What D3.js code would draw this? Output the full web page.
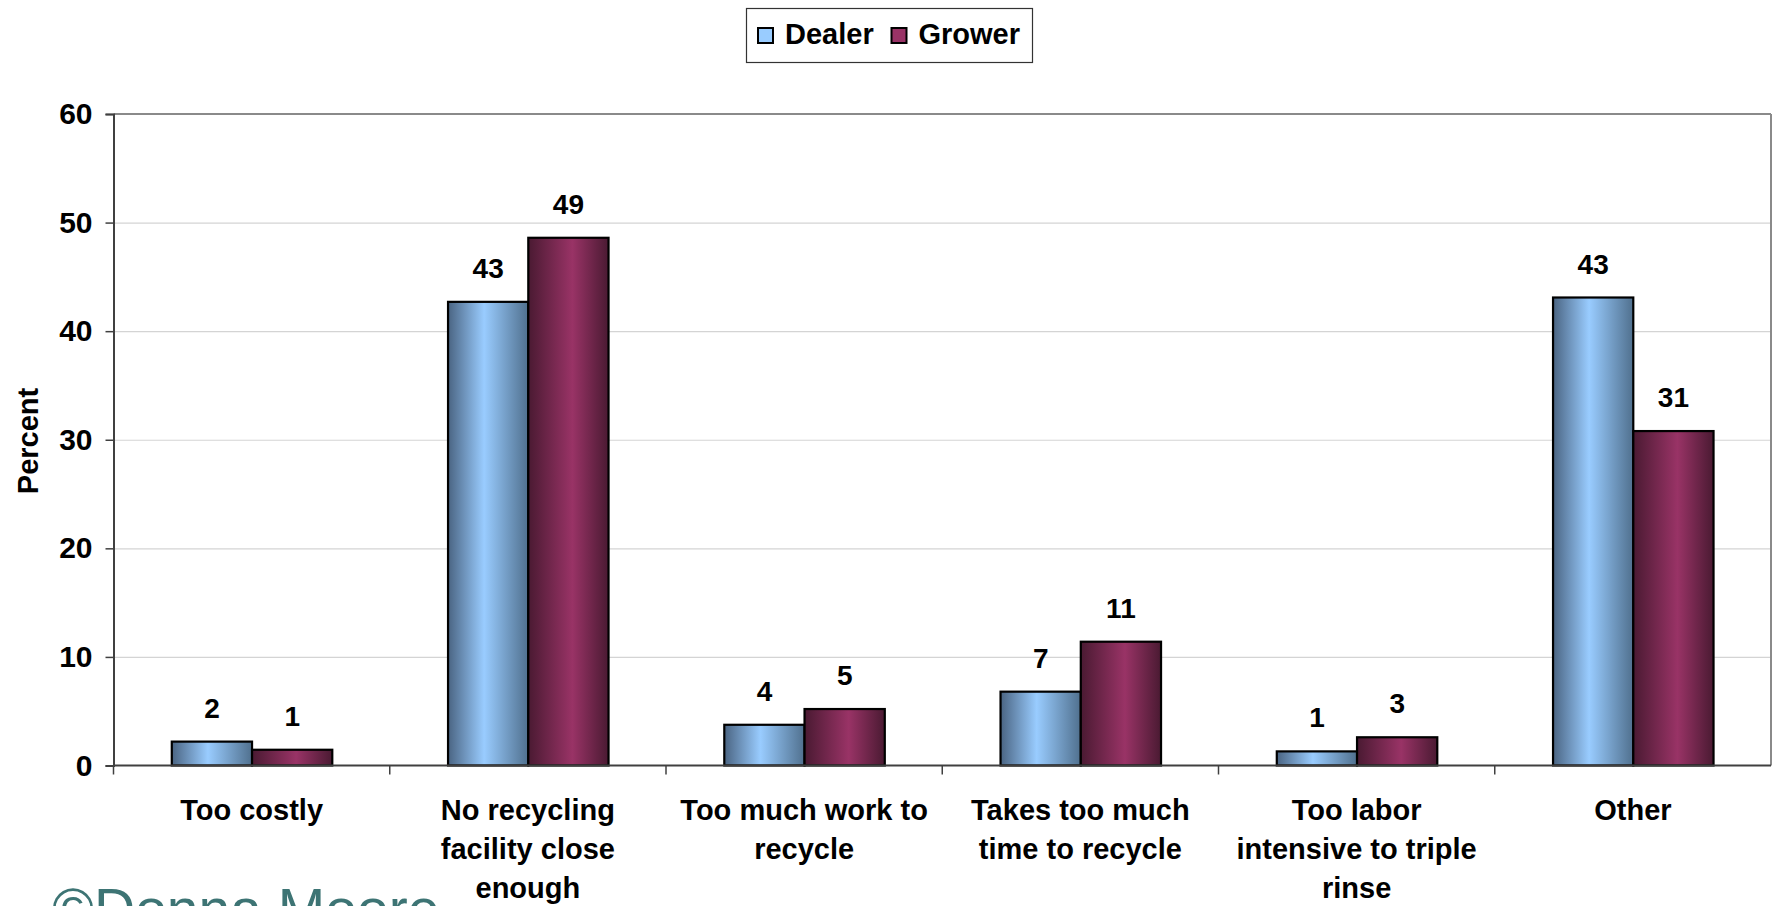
<!DOCTYPE html>
<html>
<head>
<meta charset="utf-8">
<script src="https://cdn.jsdelivr.net/npm/d3@7"></script>
<style>
  html, body { margin: 0; padding: 0; background: #ffffff; overflow: hidden; }
  svg { display: block; font-family: "Liberation Sans", Arial, sans-serif; }
</style>
</head>
<body>
<svg id="chart" width="1773" height="906"></svg>
<script>
// ---------- data ----------
const categories = [
  "Too costly",
  "No recycling facility close enough",
  "Too much work to recycle",
  "Takes too much time to recycle",
  "Too labor intensive to triple rinse",
  "Other"
];
const categoryLines = [
  ["Too costly"],
  ["No recycling", "facility close", "enough"],
  ["Too much work to", "recycle"],
  ["Takes too much", "time to recycle"],
  ["Too labor", "intensive to triple", "rinse"],
  ["Other"]
];
const seriesNames = ["Dealer", "Grower"];
const dealerValues = [2.2, 42.7, 3.75, 6.8, 1.3, 43.1];
const growerValues = [1.45, 48.6, 5.2, 11.4, 2.6, 30.8];
const yTicks = [0, 10, 20, 30, 40, 50, 60];
const yTitle = "Percent";
const watermark = "\u00A9Donna Moore";

// ---------- layout ----------
const svg = d3.select("#chart");
const mLeft = 113.5, mRight = 1771, mTop = 114, mBottom = 765.5;

const x = d3.scaleBand().domain(categories).range([mLeft, mRight]).paddingInner(0).paddingOuter(0);
const bw = x.bandwidth();
const x1 = d3.scaleBand().domain(seriesNames).range([bw * 0.211, bw * 0.792]).padding(0);
const y = d3.scaleLinear().domain([0, 60]).range([mBottom, mTop]);

const colors = {
  Dealer: [["0%", "#4a6482"], ["45%", "#99ccff"], ["100%", "#50708e"]],
  Grower: [["0%", "#4a1a32"], ["55%", "#993366"], ["100%", "#4a1a32"]]
};

const defs = svg.append("defs");
seriesNames.forEach(s => {
  const g = defs.append("linearGradient").attr("id", "grad-" + s)
    .attr("x1", "0").attr("x2", "1").attr("y1", "0").attr("y2", "0");
  colors[s].forEach(([o, c]) => g.append("stop").attr("offset", o).attr("stop-color", c));
});

// gridlines
svg.append("g").selectAll("line").data(yTicks.filter(t => t > 0 && t < 60)).join("line")
  .attr("x1", mLeft).attr("x2", mRight)
  .attr("y1", d => y(d) + 0.5).attr("y2", d => y(d) + 0.5)
  .attr("stroke", "#d4d4d4").attr("stroke-width", 1.2);

// plot border top & right
svg.append("line").attr("x1", mLeft).attr("x2", mRight).attr("y1", y(60)).attr("y2", y(60))
  .attr("stroke", "#8a8a8a").attr("stroke-width", 2);
svg.append("line").attr("x1", mRight).attr("x2", mRight).attr("y1", y(60)).attr("y2", y(0))
  .attr("stroke", "#8a8a8a").attr("stroke-width", 2);

// y axis
const yAxis = d3.axisLeft(y).tickValues(yTicks).tickSize(8).tickPadding(13).tickFormat(d3.format("d"));
const gy = svg.append("g").attr("transform", `translate(${mLeft},0)`).call(yAxis);
gy.select(".domain").attr("stroke", "#404040").attr("stroke-width", 2);
gy.selectAll(".tick line").attr("stroke", "#404040").attr("stroke-width", 1.5);
gy.selectAll(".tick text").attr("font-size", 30).attr("font-weight", "bold")
  .attr("fill", "#000").attr("font-family", "Liberation Sans, Arial, sans-serif");

// y title
svg.append("text").attr("transform", `translate(38,441) rotate(-90)`)
  .attr("text-anchor", "middle").attr("font-size", 29).attr("font-weight", "bold")
  .text(yTitle);

// bars
const data = categories.map((c, i) => ({ cat: c, vals: [
  { s: "Dealer", v: dealerValues[i] }, { s: "Grower", v: growerValues[i] }] }));

const groups = svg.append("g").selectAll("g").data(data).join("g")
  .attr("transform", d => `translate(${x(d.cat)},0)`);

groups.selectAll("rect").data(d => d.vals).join("rect")
  .attr("x", d => x1(d.s)).attr("width", x1.bandwidth())
  .attr("y", d => y(d.v)).attr("height", d => y(0) - y(d.v))
  .attr("fill", d => `url(#grad-${d.s})`)
  .attr("stroke", "#000").attr("stroke-width", 2.2);

groups.selectAll("text.val").data(d => d.vals).join("text").attr("class", "val")
  .attr("x", d => x1(d.s) + x1.bandwidth() / 2)
  .attr("y", d => y(d.v) - 24)
  .attr("text-anchor", "middle").attr("font-size", 28).attr("font-weight", "bold")
  .text(d => d3.format(".0f")(d.v));

// x axis line
svg.append("line").attr("x1", mLeft).attr("x2", mRight).attr("y1", y(0)).attr("y2", y(0))
  .attr("stroke", "#404040").attr("stroke-width", 2);

// x ticks at band boundaries
const boundaries = categories.map(c => x(c));
svg.append("g").selectAll("line").data(boundaries).join("line")
  .attr("x1", d => d).attr("x2", d => d).attr("y1", y(0)).attr("y2", y(0) + 9)
  .attr("stroke", "#404040").attr("stroke-width", 1.5);

// category labels
const lab = svg.append("g").selectAll("text").data(categories).join("text")
  .attr("text-anchor", "middle").attr("font-size", 29).attr("font-weight", "bold")
  .attr("x", c => x(c) + bw / 2).attr("y", 820);
lab.each(function(c, i) {
  d3.select(this).selectAll("tspan").data(categoryLines[i]).join("tspan")
    .attr("x", x(c) + bw / 2).attr("dy", (d, j) => j === 0 ? 0 : 39).text(d => d);
});

// legend
const lg = svg.append("g");
lg.append("rect").attr("x", 746.5).attr("y", 8.5).attr("width", 286).attr("height", 54)
  .attr("fill", "#fff").attr("stroke", "#333").attr("stroke-width", 1.2);
const legendX = [758, 891.5];
seriesNames.forEach((s, i) => {
  lg.append("rect").attr("x", legendX[i]).attr("y", 28).attr("width", 15).attr("height", 15)
    .attr("fill", colors[s][1][1]).attr("stroke", "#000").attr("stroke-width", 2);
  lg.append("text").attr("x", legendX[i] + 27).attr("y", 44)
    .attr("font-size", 29).attr("font-weight", "bold").text(s);
});

// watermark
svg.append("text").attr("x", 52).attr("y", 929).attr("font-size", 57)
  .attr("fill", "#3d7474").attr("font-family", "Liberation Sans, Arial, sans-serif")
  .text(watermark);
</script>
</body>
</html>
